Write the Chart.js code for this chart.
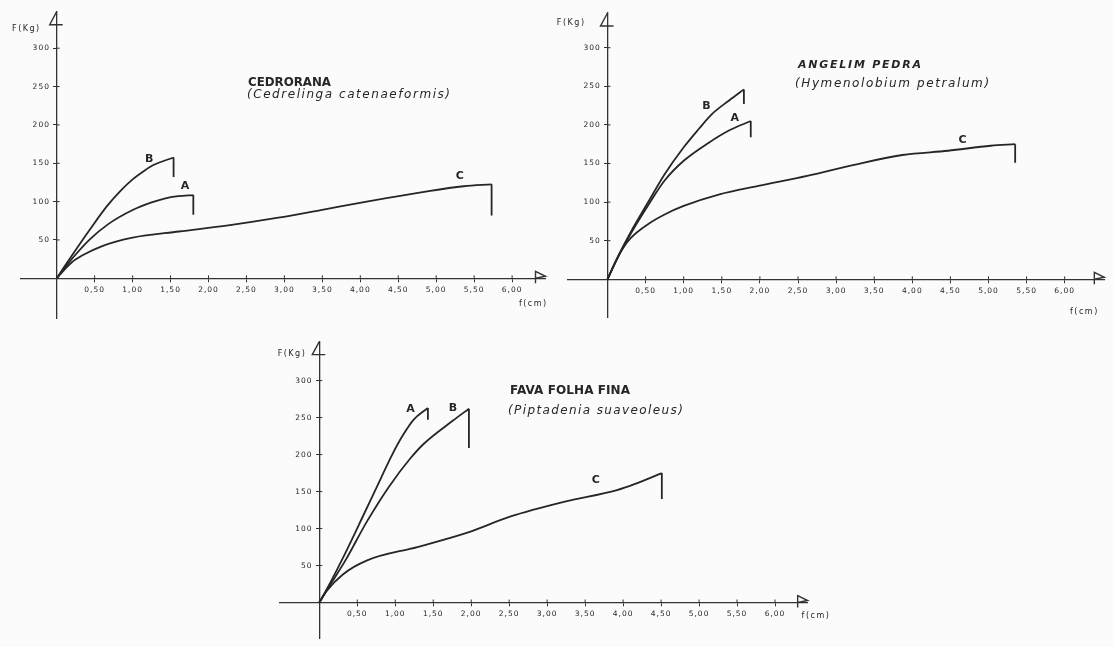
<!DOCTYPE html>
<html>
<head>
<meta charset="utf-8">
<script src="https://cdn.jsdelivr.net/npm/chart.js@4.4.1/dist/chart.umd.min.js"></script>
<style>
html,body{margin:0;padding:0;background:#fbfbfb;}
#wrap{position:relative;width:1113px;height:647px;overflow:hidden;background:#fbfbfb;}
#wrap canvas{position:absolute;left:0;top:0;}
</style>
</head>
<body>
<div id="wrap">
<canvas id="c1" width="1113" height="647"></canvas>
<canvas id="c2" width="1113" height="647"></canvas>
<canvas id="c3" width="1113" height="647"></canvas>
</div>
<script>
// ---------- DATA ----------
const xTickValues = [0.5, 1, 1.5, 2, 2.5, 3, 3.5, 4, 4.5, 5, 5.5, 6];
const yTickValues = [50, 100, 150, 200, 250, 300];
const curveNames = ["A", "B", "C"];
const titles = ["CEDRORANA", "ANGELIM PEDRA", "FAVA FOLHA FINA"];
const subtitles = ["(Cedrelinga catenaeformis)", "(Hymenolobium petralum)", "(Piptadenia suaveoleus)"];
const yAxisLabel = "F(Kg)";
const xAxisLabel = "f(cm)";

// CEDRORANA (deflection cm, load kg); *_drop = load after rupture
const cedA_x = [0, 0.1, 0.25, 0.44, 0.67, 1.0, 1.25, 1.42, 1.6, 1.8];
const cedA_y = [0, 13, 31, 51, 70, 89, 99, 104, 107, 108.5];
const cedA_drop = 83;
const cedB_x = [0, 0.1, 0.25, 0.44, 0.67, 0.85, 1.0, 1.15, 1.28, 1.54];
const cedB_y = [0, 15, 37, 64, 95, 115, 129, 140, 148, 157.5];
const cedB_drop = 132;
const cedC_x = [0, 0.1, 0.2, 0.34, 0.6, 1.0, 1.61, 2.26, 2.92, 3.48, 4.14, 4.8, 5.36, 5.73];
const cedC_y = [0, 11, 21, 30, 42, 53, 61, 69, 79, 89, 101, 112, 120, 122.5];
const cedC_drop = 82;

// ANGELIM PEDRA
const angA_x = [0, 0.15, 0.31, 0.54, 0.75, 1.0, 1.33, 1.6, 1.88];
const angA_y = [0, 31, 60, 97, 128, 153.5, 177, 193, 205];
const angA_drop = 184;
const angB_x = [0, 0.15, 0.31, 0.54, 0.75, 1.0, 1.2, 1.37, 1.6, 1.79];
const angB_y = [0, 32, 62, 101, 136, 171, 195, 214, 232, 246];
const angB_drop = 227;
const angC_x = [0, 0.1, 0.2, 0.31, 0.54, 0.75, 1.0, 1.47, 1.98, 2.62, 3.22, 3.87, 4.47, 5.03, 5.35];
const angC_y = [0, 22, 40, 54, 72, 84, 95, 110, 121, 134, 148, 161, 166.5, 173, 175];
const angC_drop = 151;

// FAVA FOLHA FINA
const favA_x = [0, 0.15, 0.31, 0.59, 0.82, 0.96, 1.1, 1.24, 1.43];
const favA_y = [0, 28, 60, 120, 170, 200, 226, 247, 263];
const favA_drop = 247;
const favB_x = [0, 0.15, 0.35, 0.63, 0.92, 1.2, 1.38, 1.76, 1.97];
const favB_y = [0, 25, 58, 110, 157, 195, 215, 246, 262];
const favB_drop = 209;
const favC_x = [0, 0.1, 0.31, 0.63, 1.29, 1.95, 2.51, 3.22, 3.92, 4.15, 4.51];
const favC_y = [0, 16, 38, 57, 75, 94.5, 116, 136, 152, 160, 175];
const favC_drop = 140;

// ---------- LAYOUT / STYLE ----------
const W = 1113, H = 647;
const INK = "#262626";
const AXIS = "#333333";
const FONT = "'DejaVu Sans', 'Liberation Sans', sans-serif";

const panels = [
  {
    canvas: "c1",
    geo: {ox: 56.7, oy: 278.3, sx: 75.9, sy: 0.767, xmin: -0.47, xmax: 6.44, ymin: -52, ymax: 347.6},
    series: [[cedA_x, cedA_y, cedA_drop], [cedB_x, cedB_y, cedB_drop], [cedC_x, cedC_y, cedC_drop]],
    namePos: [[1.69, 120], [1.22, 155], [5.31, 133]],
    title: {x: 248, y: 83, w: 83, font: "bold 12px " + FONT},
    subtitle: {x: 247, y: 95, w: 203, font: "italic 12px " + FONT},
    fkg: {dx: -16, dy: 17},
    fcm: {x: 6.09, dy: 26}
  },
  {
    canvas: "c2",
    geo: {ox: 607.5, oy: 279.3, sx: 76.2, sy: 0.772, xmin: -0.52, xmax: 6.52, ymin: -50, ymax: 345},
    series: [[angA_x, angA_y, angA_drop], [angB_x, angB_y, angB_drop], [angC_x, angC_y, angC_drop]],
    namePos: [[1.67, 209], [1.30, 224], [4.66, 180]],
    title: {x: 798, y: 65, w: 123, font: "italic bold 11px " + FONT},
    subtitle: {x: 795, y: 84, w: 194, font: "italic 12px " + FONT},
    fkg: {dx: -22, dy: 10},
    fcm: {x: 6.07, dy: 33}
  },
  {
    canvas: "c3",
    geo: {ox: 319.3, oy: 610, sx: 75.95, sy: 0.761, xmin: -0.52, xmax: 6.43, ymin: -48.6, ymax: 352.6},
    series: [[favA_x, favA_y, favA_drop], [favB_x, favB_y, favB_drop], [favC_x, favC_y, favC_drop]],
    namePos: [[1.2, 261], [1.76, 263], [3.64, 165]],
    title: {x: 510, y: 391, w: 120, font: "bold 12px " + FONT},
    subtitle: {x: 508, y: 410.5, w: 175, font: "italic 12px " + FONT},
    fkg: {dx: -13, dy: 12},
    fcm: {x: 6.35, dy: 13}
  }
];

function fittedText(ctx, text, x, y, font, targetW) {
  ctx.save();
  ctx.font = font;
  ctx.letterSpacing = "0px";
  const w = ctx.measureText(text).width;
  const sp = (targetW - w) / Math.max(1, text.length - 1);
  ctx.textAlign = "left";
  ctx.textBaseline = "middle";
  ctx.fillStyle = INK;
  if (sp >= 0) {
    ctx.letterSpacing = sp.toFixed(2) + "px";
    ctx.fillText(text, x, y);
  } else {
    ctx.fillText(text, x, y, targetW);
  }
  ctx.restore();
}

const decoPlugin = {
  id: "deco",
  beforeDraw(chart) {
    chart.ctx.letterSpacing = "1px";
  },
  afterDraw(chart, args, opts) {
    const ctx = chart.ctx;
    const xs = chart.scales.x, ys = chart.scales.y;
    const x0 = xs.getPixelForValue(0), y0 = ys.getPixelForValue(0);
    ctx.save();
    ctx.letterSpacing = "0px";
    ctx.strokeStyle = AXIS;
    ctx.lineWidth = 1;
    // upper / right halves of the cross ticks
    ctx.beginPath();
    xTickValues.forEach(v => { const p = xs.getPixelForValue(v); ctx.moveTo(p, y0 - 3); ctx.lineTo(p, y0); });
    yTickValues.forEach(v => { const p = ys.getPixelForValue(v); ctx.moveTo(x0, p); ctx.lineTo(x0 + 3, p); });
    ctx.stroke();
    // arrows
    ctx.lineWidth = 1.4;
    const tipX = xs.getPixelForValue(xs.max);
    const bx = tipX - 10;
    ctx.beginPath();
    ctx.moveTo(bx, y0 + 5); ctx.lineTo(bx, y0 - 7); ctx.lineTo(tipX, y0 - 2); ctx.lineTo(bx, y0);
    ctx.stroke();
    const topY = ys.getPixelForValue(ys.max);
    ctx.beginPath();
    ctx.moveTo(x0, topY); ctx.lineTo(x0 - 7, topY + 13); ctx.lineTo(x0 + 6, topY + 13);
    ctx.stroke();
    // axis names
    ctx.fillStyle = INK;
    ctx.font = "8px " + FONT;
    ctx.letterSpacing = "1.5px";
    ctx.textBaseline = "middle";
    ctx.textAlign = "right";
    ctx.fillText(yAxisLabel, x0 + opts.fkg.dx, topY + opts.fkg.dy);
    ctx.textAlign = "left";
    ctx.fillText(xAxisLabel, xs.getPixelForValue(opts.fcm.x), y0 + opts.fcm.dy);
    // curve names
    ctx.letterSpacing = "0px";
    ctx.font = "bold 11px " + FONT;
    ctx.textAlign = "center";
    curveNames.forEach((n, i) => {
      const p = opts.namePos[i];
      ctx.fillText(n, xs.getPixelForValue(p[0]), ys.getPixelForValue(p[1]));
    });
    ctx.restore();
    // titles
    fittedText(ctx, opts.titleText, opts.title.x, opts.title.y, opts.title.font, opts.title.w);
    fittedText(ctx, opts.subtitleText, opts.subtitle.x, opts.subtitle.y, opts.subtitle.font, opts.subtitle.w);
  }
};

function buildDatasets(series) {
  const ds = [];
  series.forEach(([xs, ys, drop]) => {
    const pts = xs.map((x, i) => ({x: x, y: ys[i]}));
    ds.push({data: pts, cubicInterpolationMode: "monotone", borderColor: INK, borderWidth: 1.8, pointRadius: 0, fill: false});
    const last = pts[pts.length - 1];
    ds.push({data: [{x: last.x, y: last.y}, {x: last.x, y: drop}], tension: 0, borderColor: INK, borderWidth: 1.8, pointRadius: 0, fill: false});
  });
  return ds;
}

const fmtX = v => Number(v).toFixed(2).replace(".", ",");

panels.forEach((p, idx) => {
  const g = p.geo;
  const left = g.ox + g.xmin * g.sx;
  const right = g.ox + g.xmax * g.sx;
  const top = g.oy - g.ymax * g.sy;
  const bottom = g.oy - g.ymin * g.sy;
  new Chart(document.getElementById(p.canvas), {
    type: "line",
    data: {datasets: buildDatasets(p.series)},
    options: {
      responsive: false,
      animation: false,
      events: [],
      layout: {padding: {left: left, right: W - right, top: top, bottom: H - bottom}},
      plugins: {
        legend: {display: false},
        tooltip: {enabled: false},
        title: {display: false},
        deco: {
          namePos: p.namePos, title: p.title, subtitle: p.subtitle,
          titleText: titles[idx], subtitleText: subtitles[idx],
          fkg: p.fkg, fcm: p.fcm
        }
      },
      scales: {
        x: {
          type: "linear",
          position: {y: 0},
          min: g.xmin, max: g.xmax,
          afterBuildTicks: a => { a.ticks = xTickValues.map(v => ({value: v})); },
          ticks: {callback: v => fmtX(v), font: {family: FONT, size: 7.5}, color: INK, padding: 4, autoSkip: false, maxRotation: 0},
          grid: {drawOnChartArea: false, tickLength: 3, color: AXIS, lineWidth: 1},
          border: {color: AXIS, width: 1.3}
        },
        y: {
          type: "linear",
          position: {x: 0},
          min: g.ymin, max: g.ymax,
          afterBuildTicks: a => { a.ticks = yTickValues.map(v => ({value: v})); },
          ticks: {callback: v => String(v) + "  ", font: {family: FONT, size: 7.5}, color: INK, padding: 4, autoSkip: false},
          grid: {drawOnChartArea: false, tickLength: 3, color: AXIS, lineWidth: 1},
          border: {color: AXIS, width: 1.3}
        }
      }
    },
    plugins: [decoPlugin]
  });
});
</script>
</body>
</html>
